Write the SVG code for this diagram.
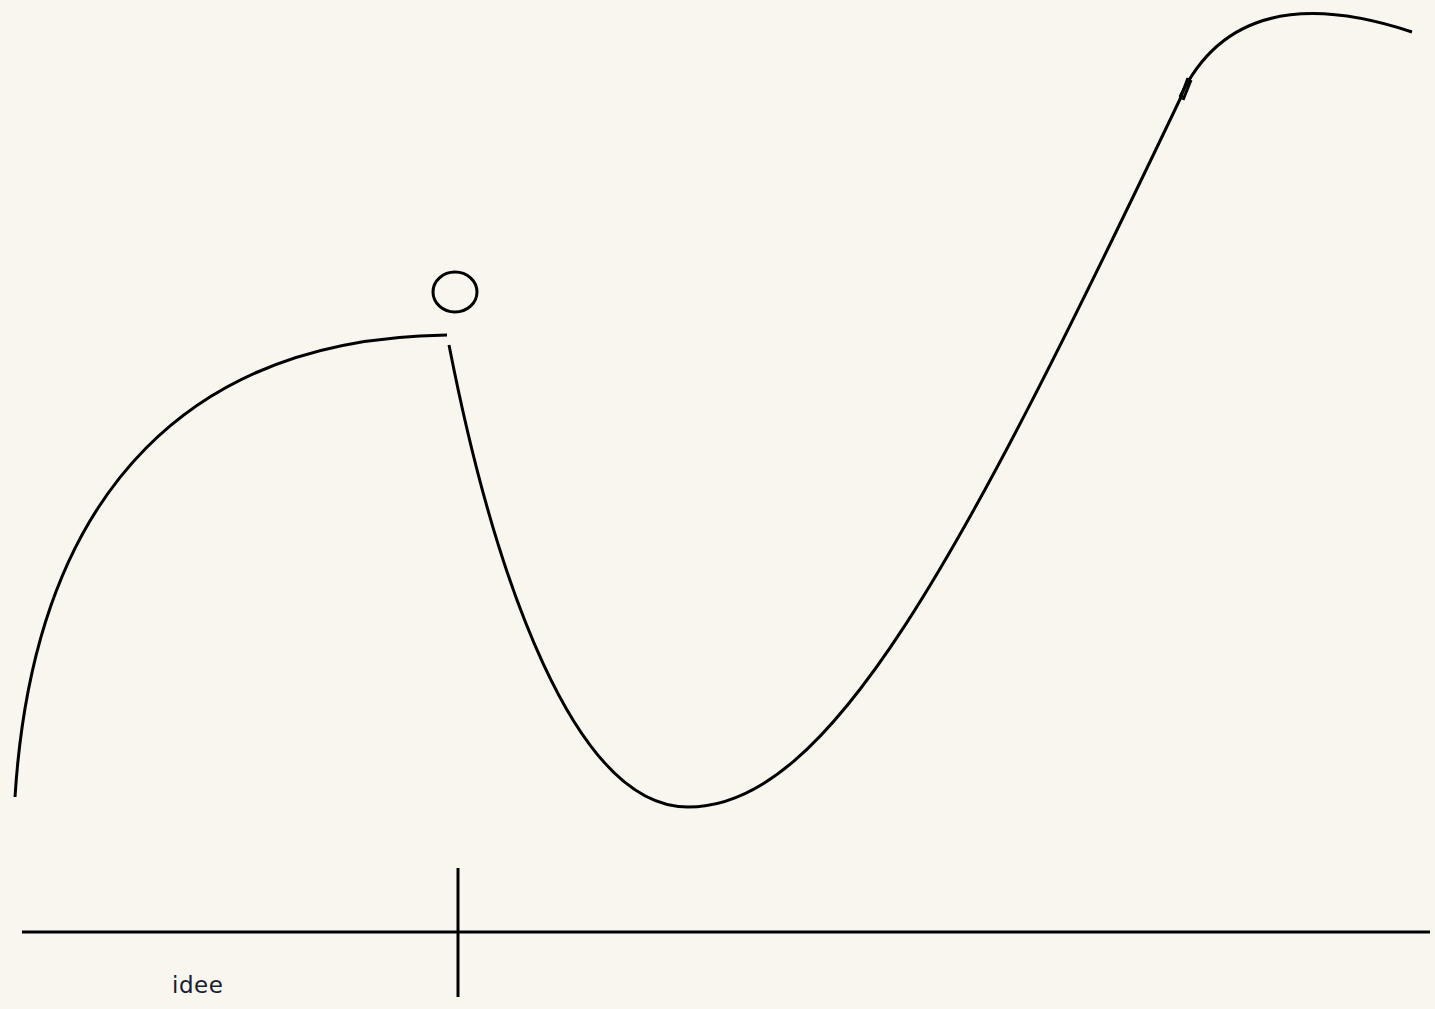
<svg xmlns="http://www.w3.org/2000/svg" width="1435" height="1009" viewBox="0 0 1435 1009">
<style>
.ln{fill:none;stroke:#000;stroke-width:3;stroke-linecap:butt}
.lbl{font-family:"DejaVu Sans","Liberation Sans",sans-serif;font-size:23px;fill:#1a1c30;letter-spacing:0.5px}
</style>
<rect width="1435" height="1009" fill="#f8f6ef"/>
<g id="connectors">
<path class="ln" d="M15,797 C35,480 200,338 447,335"/>
<path class="ln" d="M449,345 C495,580 575,807 688,807 C830,807 960,560 1182,95"/>
<path class="ln" d="M1180,97 C1220,12 1300,-5 1412,32"/>
<path class="ln" stroke-width="1.5" d="M1180,99 L1188,78"/>
<path class="ln" stroke-width="1.5" d="M1183,100 L1191,80"/>
</g>
<g id="ball"><ellipse class="ln" cx="455" cy="292" rx="22" ry="20"/></g>
<g id="axis">
<line class="ln" x1="22" y1="932" x2="1430" y2="932"/>
<line class="ln" x1="458" y1="868" x2="458" y2="997"/>
</g>
<g id="label"><text class="lbl" x="172" y="993">idee</text></g>
</svg>
